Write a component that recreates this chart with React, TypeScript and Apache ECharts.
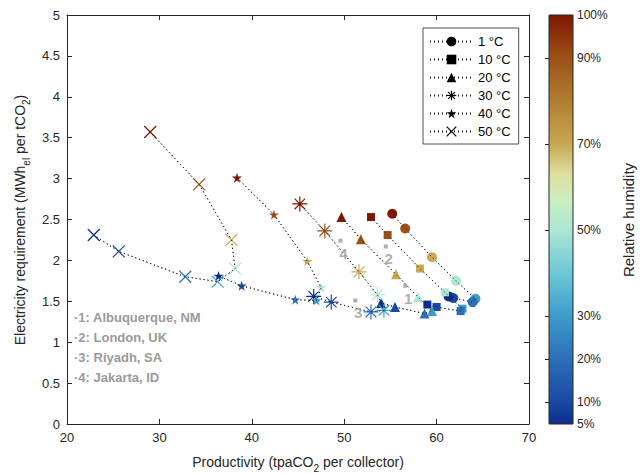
import React, { useEffect, useRef } from 'react';
import * as echarts from 'echarts';

// ---------- data ----------
const temperatures = ['1 °C', '10 °C', '20 °C', '30 °C', '40 °C', '50 °C'];
const relativeHumidity = [100, 90, 70, 50, 30, 20, 10, 5];

const prod1C = [55.2, 56.6, 59.5, 62.1, 64.2, 63.9, 61.8, 61.3];
const elec1C = [2.57, 2.39, 2.04, 1.75, 1.53, 1.49, 1.54, 1.56];
const prod10C = [52.9, 54.7, 58.2, 60.9, 62.8, 62.6, 60.0, 59.0];
const elec10C = [2.53, 2.31, 1.90, 1.61, 1.41, 1.38, 1.43, 1.46];
const prod20C = [49.7, 51.8, 55.6, 58.0, 59.5, 58.7, 55.5, 54.0];
const elec20C = [2.53, 2.26, 1.83, 1.55, 1.38, 1.35, 1.43, 1.48];
const prod30C = [45.2, 47.9, 51.6, 53.6, 54.3, 52.9, 48.6, 46.7];
const elec30C = [2.69, 2.36, 1.86, 1.58, 1.39, 1.37, 1.49, 1.56];
const prod40C = [38.4, 42.4, 46.0, 47.5, 47.0, 44.7, 38.9, 36.4];
const elec40C = [3.01, 2.56, 1.99, 1.67, 1.51, 1.52, 1.69, 1.81];
const prod50C = [29.0, 34.3, 37.8, 38.2, 36.3, 32.8, 25.6, 22.9];
const elec50C = [3.57, 2.93, 2.25, 1.90, 1.74, 1.80, 2.11, 2.31];

const productivity = [prod1C, prod10C, prod20C, prod30C, prod40C, prod50C];
const electricity = [elec1C, elec10C, elec20C, elec30C, elec40C, elec50C];

const cityLabels = ['1', '2', '3', '4'];
const cityProd = [56.6, 54.5, 51.2, 49.6];
const cityElec = [1.69, 2.17, 1.51, 2.24];
const cityNames = ['·1: Albuquerque, NM', '·2: London, UK', '·3: Riyadh, SA', '·4: Jakarta, ID'];

const colorbarTickValues = [10, 20, 30, 50, 70, 90];
const colorbarLabelValues = [5, 10, 20, 30, 50, 70, 90, 100];

// ---------- styles ----------
const RH_MIN = 5;
const RH_MAX = 100;
const colormap: [number, string][] = [
  [5, '#0b2d8e'],
  [10, '#1a48a3'],
  [20, '#2a6fb8'],
  [30, '#3e9bcb'],
  [40, '#6cc7d7'],
  [50, '#abe6d4'],
  [57, '#cdeec0'],
  [63, '#dde0a0'],
  [70, '#c8a852'],
  [80, '#b27e31'],
  [90, '#9c5119'],
  [100, '#7e1700'],
];

const ASTERISK = 'path://M0,-1L0,1M-1,0L1,0M-0.707,-0.707L0.707,0.707M-0.707,0.707L0.707,-0.707';
const STAR = 'path://M0,-1L0.2245,-0.309L0.951,-0.309L0.3633,0.118L0.5878,0.809L0,0.382L-0.5878,0.809L-0.3633,0.118L-0.951,-0.309L-0.2245,-0.309Z';
const XMARK = 'path://M-1,-1L1,1M-1,1L1,-1';
const SYMBOLS = ['circle', 'rect', 'triangle', ASTERISK, STAR, XMARK];
const SIZES = [10, 8, 10, 15, 10, 12];
const STROKED = [false, false, false, true, false, true];

const FONT = '"Liberation Sans", Arial, Helvetica, sans-serif';
const AXIS = '#262626';
const GRAY = '#9a9a9a';

function hexToRgb(h: string): number[] {
  return [parseInt(h.slice(1, 3), 16), parseInt(h.slice(3, 5), 16), parseInt(h.slice(5, 7), 16)];
}

function rhColor(v: number): string {
  for (let i = 0; i < colormap.length - 1; i++) {
    const [v0, c0] = colormap[i];
    const [v1, c1] = colormap[i + 1];
    if (v >= v0 && v <= v1) {
      const t = (v - v0) / (v1 - v0);
      const a = hexToRgb(c0);
      const b = hexToRgb(c1);
      const r = a.map((x, k) => Math.round(x + (b[k] - x) * t));
      return `rgb(${r[0]},${r[1]},${r[2]})`;
    }
  }
  return colormap[colormap.length - 1][1];
}

const dottedLine = { color: '#1a1a1a', width: 1, type: [1, 3] as any };

export default function App() {
  const ref = useRef<HTMLDivElement>(null);

  useEffect(() => {
    if (!ref.current) return;
    const chart = echarts.init(ref.current, null, { renderer: 'svg' });

    const mainSeries: any[] = temperatures.map((name, i) => ({
      type: 'line',
      name,
      xAxisIndex: 0,
      yAxisIndex: 0,
      symbol: SYMBOLS[i],
      symbolSize: SIZES[i],
      showSymbol: true,
      lineStyle: dottedLine,
      itemStyle: STROKED[i]
        ? { color: 'rgba(0,0,0,0)', borderColor: '#000', borderWidth: 1.2 }
        : { color: '#000' },
      emphasis: { disabled: true },
      z: 2,
      data: productivity[i].map((x, j) => {
        const c = rhColor(relativeHumidity[j]);
        return {
          value: [x, electricity[i][j], relativeHumidity[j]],
          itemStyle: STROKED[i]
            ? { color: 'rgba(0,0,0,0)', borderColor: c, borderWidth: 1.2 }
            : { color: c, borderWidth: 0 },
        };
      }),
    }));

    const overlaySeries: any[] = temperatures.map((name, i) => ({
      type: 'line',
      name: '_line' + i,
      xAxisIndex: 0,
      yAxisIndex: 0,
      symbol: 'none',
      silent: true,
      lineStyle: dottedLine,
      z: 5,
      data: productivity[i].map((x, j) => [x, electricity[i][j]]),
    }));

    const citySeries = {
      type: 'scatter',
      name: 'cities',
      xAxisIndex: 0,
      yAxisIndex: 0,
      symbol: 'rect',
      symbolSize: 4,
      itemStyle: { color: GRAY },
      silent: true,
      z: 6,
      label: {
        show: true,
        position: 'bottom',
        distance: 3,
        offset: [3, 0],
        formatter: '{b}',
        color: GRAY,
        fontSize: 15,
        fontWeight: 'bold',
        fontFamily: FONT,
      },
      data: cityLabels.map((n, k) => ({ name: n, value: [cityProd[k], cityElec[k]] })),
    };

    const stops = colormap.map(([v, c]) => ({ offset: (v - RH_MIN) / (RH_MAX - RH_MIN), color: c }));

    const colorbarSeries = {
      type: 'custom',
      xAxisIndex: 2,
      yAxisIndex: 2,
      silent: true,
      z: 1,
      data: [[0, RH_MIN]],
      renderItem: (_params: any, api: any) => {
        const p0 = api.coord([0, RH_MAX]);
        const p1 = api.coord([1, RH_MIN]);
        return {
          type: 'rect',
          shape: { x: p0[0], y: p0[1], width: p1[0] - p0[0], height: p1[1] - p0[1] },
          style: {
            fill: new echarts.graphic.LinearGradient(0, 1, 0, 0, stops),
            stroke: AXIS,
            lineWidth: 1,
          },
        };
      },
    };

    const axisCommon = {
      axisLine: { show: true, onZero: false, lineStyle: { color: AXIS, width: 1 } },
      axisTick: { show: true, inside: true, length: 5, lineStyle: { color: AXIS } },
      splitLine: { show: false },
    };

    const option: any = {
      animation: false,
      textStyle: { fontFamily: FONT },
      grid: [
        { left: 67, right: 111, top: 15, bottom: 49 },
        { left: 549, width: 24, top: 15, bottom: 49 },
      ],
      xAxis: [
        {
          ...axisCommon,
          gridIndex: 0,
          type: 'value',
          position: 'bottom',
          min: 20,
          max: 70,
          interval: 10,
          axisLabel: { color: AXIS, fontSize: 13, margin: 7, fontFamily: FONT },
        },
        {
          ...axisCommon,
          gridIndex: 0,
          type: 'value',
          position: 'top',
          min: 20,
          max: 70,
          interval: 10,
          axisLabel: { show: false },
        },
        { gridIndex: 1, type: 'value', min: 0, max: 1, show: false },
      ],
      yAxis: [
        {
          ...axisCommon,
          gridIndex: 0,
          type: 'value',
          position: 'left',
          min: 0,
          max: 5,
          interval: 0.5,
          axisLabel: { color: AXIS, fontSize: 13, margin: 7, fontFamily: FONT },
        },
        {
          ...axisCommon,
          gridIndex: 0,
          type: 'value',
          position: 'right',
          min: 0,
          max: 5,
          interval: 0.5,
          axisLabel: { show: false },
        },
        {
          gridIndex: 1,
          type: 'value',
          position: 'right',
          min: RH_MIN,
          max: RH_MAX,
          z: 10,
          axisLine: { show: false },
          splitLine: { show: false },
          axisTick: {
            show: true,
            inside: true,
            length: 4,
            customValues: colorbarTickValues,
            lineStyle: { color: AXIS },
          },
          axisLabel: {
            show: true,
            customValues: colorbarLabelValues,
            formatter: (v: number) => v + '%',
            color: AXIS,
            fontSize: 12,
            margin: 4,
            fontFamily: FONT,
          },
        },
      ],
      legend: {
        data: temperatures.map((t, i) => ({
          name: t,
          itemStyle: STROKED[i]
            ? { color: 'rgba(0,0,0,0)', borderColor: '#000', borderWidth: 1.2 }
            : { color: '#000', borderWidth: 0 },
        })),
        orient: 'vertical',
        left: 423,
        top: 28,
        itemWidth: 43,
        itemHeight: 12,
        itemGap: 3,
        padding: [6, 8, 5, 6],
        backgroundColor: '#fff',
        borderColor: AXIS,
        borderWidth: 0.8,
        selectedMode: false,
        textStyle: { fontSize: 13, color: '#000', fontFamily: FONT, lineHeight: 15 },
      },
      graphic: [
        {
          type: 'text',
          x: 298,
          y: 462,
          silent: true,
          style: {
            text: '{n|Productivity (tpaCO}{s|2}{n| per collector)}',
            align: 'center',
            verticalAlign: 'middle',
            fill: AXIS,
            fontFamily: FONT,
            rich: {
              n: { fontSize: 14, lineHeight: 22, verticalAlign: 'middle', fontFamily: FONT, fill: AXIS },
              s: { fontSize: 10, lineHeight: 10, verticalAlign: 'bottom', fontFamily: FONT, fill: AXIS },
            },
          },
        },
        {
          type: 'text',
          x: 20,
          y: 220,
          rotation: Math.PI / 2,
          silent: true,
          style: {
            text: '{n|Electricity requirement (MWh}{s|el}{n| per tCO}{s|2}{n|)}',
            align: 'center',
            verticalAlign: 'middle',
            fill: AXIS,
            fontFamily: FONT,
            rich: {
              n: { fontSize: 14, lineHeight: 22, verticalAlign: 'middle', fontFamily: FONT, fill: AXIS },
              s: { fontSize: 10, lineHeight: 10, verticalAlign: 'bottom', fontFamily: FONT, fill: AXIS },
            },
          },
        },
        {
          type: 'text',
          x: 628,
          y: 220,
          rotation: Math.PI / 2,
          silent: true,
          style: {
            text: 'Relative humidity',
            align: 'center',
            verticalAlign: 'middle',
            fill: AXIS,
            fontSize: 15,
            fontFamily: FONT,
          },
        },
        {
          type: 'text',
          x: 74,
          y: 307,
          silent: true,
          style: {
            text: cityNames.join('\n'),
            align: 'left',
            verticalAlign: 'top',
            fill: GRAY,
            fontSize: 13,
            fontWeight: 'bold',
            lineHeight: 20,
            fontFamily: FONT,
          },
        },
      ],
      series: [...mainSeries, ...overlaySeries, citySeries, colorbarSeries],
    };

    chart.setOption(option);
    return () => chart.dispose();
  }, []);

  return (
    <div
      ref={ref}
      style={{ position: 'fixed', left: 0, top: 0, width: 640, height: 473, background: '#fff' }}
    />
  );
}
